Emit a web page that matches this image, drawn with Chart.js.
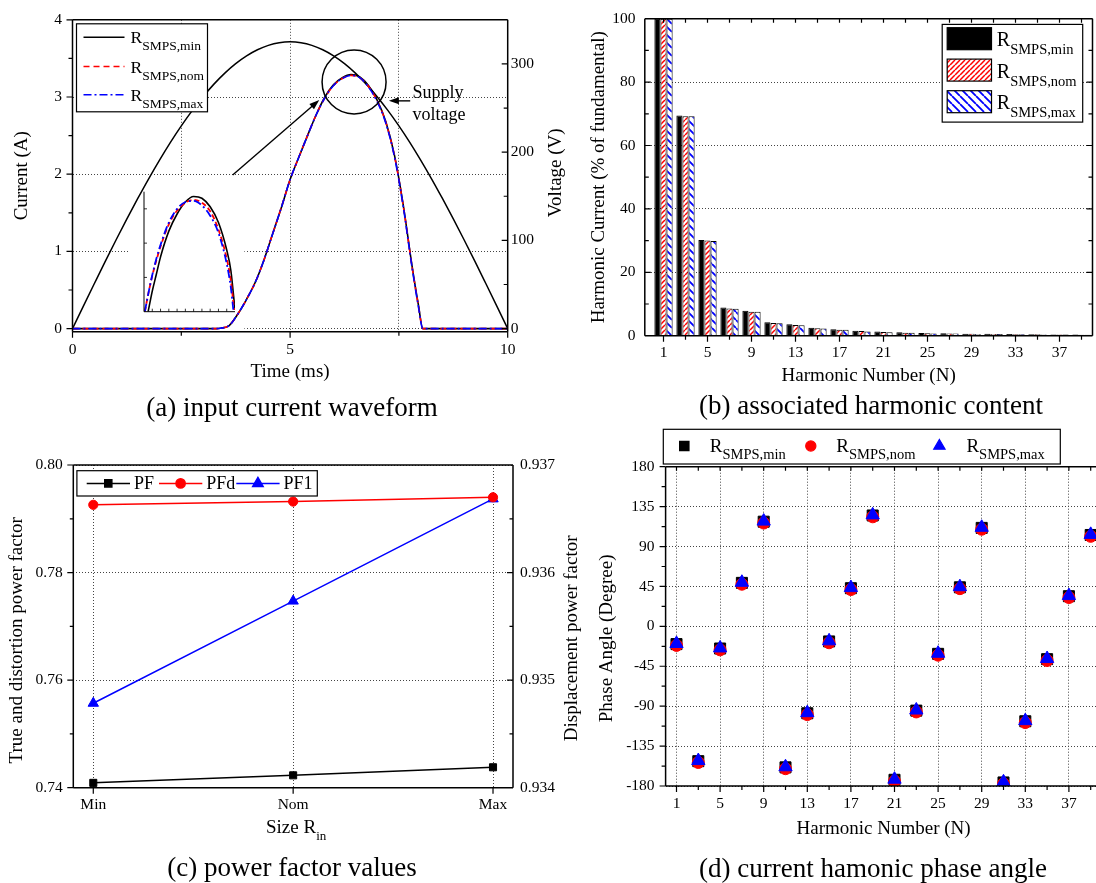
<!DOCTYPE html>
<html>
<head>
<meta charset="utf-8">
<title>SMPS input current and harmonics</title>
<script src="https://cdn.jsdelivr.net/npm/chart.js@4.4.1/dist/chart.umd.min.js"></script>
<style>
  html, body { margin: 0; padding: 0; background: #fff; }
  body { width: 1096px; height: 883px; overflow: hidden; position: relative; font-family: "Liberation Serif", "Times New Roman", serif; }
  canvas { position: absolute; }
  .caption { position: absolute; font-size: 27px; line-height: 1; transform: translate(-50%, -50%); white-space: nowrap; color: #000; }
</style>
</head>
<body>
<canvas id="waveChart" width="580" height="430" style="left:0px;top:0px"></canvas>
<canvas id="insetChart" width="100" height="130" style="left:140px;top:186px"></canvas>
<canvas id="harmonicChart" width="536" height="430" style="left:560px;top:0px"></canvas>
<canvas id="pfChart" width="600" height="458" style="left:0px;top:425px"></canvas>
<canvas id="phaseChart" width="560" height="458" style="left:560px;top:425px"></canvas>
<div class="caption" style="left:292px;top:407px">(a) input current waveform</div>
<div class="caption" style="left:871px;top:405px">(b) associated harmonic content</div>
<div class="caption" style="left:292px;top:867px">(c) power factor values</div>
<div class="caption" style="left:873px;top:868px">(d) current hamonic phase angle</div>
<script>
// ---- (a) supply voltage and input current ----
const timeV = [0, 0.25, 0.5, 0.75, 1, 1.25, 1.5, 1.75, 2, 2.25, 2.5, 2.75, 3, 3.25, 3.5, 3.75, 4, 4.25, 4.5, 4.75,
  5, 5.25, 5.5, 5.75, 6, 6.25, 6.5, 6.75, 7, 7.25, 7.5, 7.75, 8, 8.25, 8.5, 8.75, 9, 9.25, 9.5, 9.75, 10];
const supplyV = [0, 25.5, 50.8, 75.9, 100.4, 124.4, 147.5, 169.8, 191.0, 211.1, 229.8, 247.1, 262.9, 277.1, 289.6, 300.3, 309.1, 316.0, 321.0, 324.0,
  325.0, 324.0, 321.0, 316.0, 309.1, 300.3, 289.6, 277.1, 262.9, 247.1, 229.8, 211.1, 191.0, 169.8, 147.5, 124.4, 100.4, 75.9, 50.8, 25.5, 0];

const timeI = [0, 3.3, 3.4, 3.6, 3.8, 4.0, 4.2, 4.4, 4.6, 4.8, 5.0, 5.2, 5.4, 5.6, 5.8, 6.0, 6.2, 6.4, 6.6, 6.8, 7.0, 7.2, 7.4, 7.6, 7.8, 7.95, 8.05, 10];
const currentMin = [0, 0, 0.005, 0.04, 0.19, 0.38, 0.60, 0.89, 1.23, 1.57, 1.93, 2.22, 2.50, 2.77, 3.00, 3.16, 3.25, 3.29, 3.26, 3.15, 2.96, 2.68, 2.24, 1.60, 0.82, 0.30, 0, 0];
const currentNom = [0, 0, 0.005, 0.04, 0.19, 0.38, 0.60, 0.89, 1.23, 1.57, 1.93, 2.22, 2.50, 2.77, 2.99, 3.15, 3.24, 3.28, 3.25, 3.14, 2.95, 2.67, 2.23, 1.59, 0.81, 0.29, 0, 0];
const currentMax = [0, 0, 0.005, 0.04, 0.19, 0.38, 0.60, 0.89, 1.23, 1.57, 1.93, 2.22, 2.50, 2.77, 2.99, 3.15, 3.24, 3.28, 3.25, 3.13, 2.94, 2.66, 2.22, 1.58, 0.80, 0.28, 0, 0];

// zoomed view of the current peak
const insetTimeMin = [5.95, 6.0, 6.05, 6.1, 6.2, 6.3, 6.4, 6.5, 6.6, 6.7, 6.8, 6.9, 6.95, 7.0];
const insetMin = [2.95, 3.01, 3.06, 3.11, 3.185, 3.235, 3.27, 3.286, 3.281, 3.256, 3.21, 3.13, 3.07, 2.955];
const insetTimeNom = [5.91, 5.95, 6.0, 6.05, 6.1, 6.2, 6.3, 6.4, 6.5, 6.6, 6.7, 6.8, 6.9, 6.95, 6.99];
const insetNom = [2.95, 3.0, 3.055, 3.10, 3.14, 3.205, 3.245, 3.268, 3.276, 3.268, 3.243, 3.19, 3.105, 3.04, 2.955];
const insetTimeMax = [5.91, 5.95, 6.0, 6.05, 6.1, 6.2, 6.3, 6.4, 6.5, 6.6, 6.7, 6.8, 6.9, 6.95, 6.98];
const insetMax = [2.95, 3.0, 3.057, 3.105, 3.145, 3.21, 3.25, 3.27, 3.273, 3.26, 3.23, 3.18, 3.09, 3.02, 2.955];

// ---- (b) harmonic magnitudes, % of fundamental ----
const harmonics = [1, 3, 5, 7, 9, 11, 13, 15, 17, 19, 21, 23, 25, 27, 29, 31, 33, 35, 37, 39];
const harmonicLabels = [1, 5, 9, 13, 17, 21, 25, 29, 33, 37];
const magMin = [100, 69.5, 30.2, 8.9, 7.86, 4.24, 3.62, 2.48, 2.07, 1.55, 1.34, 1.05, 0.85, 0.80, 0.65, 0.60, 0.50, 0.45, 0.40, 0.35];
const magNom = [100, 69.2, 30.0, 8.6, 7.55, 4.04, 3.40, 2.38, 1.86, 1.45, 1.14, 0.95, 0.75, 0.72, 0.58, 0.55, 0.45, 0.42, 0.37, 0.32];
const magMax = [100, 69.2, 29.9, 8.5, 7.55, 3.93, 3.31, 2.28, 1.86, 1.35, 1.10, 0.92, 0.72, 0.70, 0.55, 0.52, 0.43, 0.40, 0.35, 0.30];

// ---- (c) power factors vs input resistor size ----
const sizeLabels = ['Min', 'Nom', 'Max'];
const pfValues = [0.7409, 0.7423, 0.7438];
const pfdValues = [0.93663, 0.93666, 0.93670];
const pf1Values = [0.7557, 0.7747, 0.7937];

// ---- (d) harmonic phase angle, degrees ----
const phaseMin = [-20, -152, -25, 49, 118, -159, -98, -17, 43, 125, -173, -95, -31, 44, 111, -176, -107, -37, 34, 103];
const phaseNom = [-21.5, -153.5, -26.5, 47.5, 116.5, -160.5, -99.5, -18.5, 41.5, 123.5, -174.5, -96.5, -32.5, 42.5, 109.5, -177.5, -108.5, -38.5, 32.5, 101.5];
const phaseMax = [-19.5, -151.5, -24.5, 49.5, 118.5, -158.5, -97.5, -16.5, 43.5, 125.5, -172.5, -94.5, -30.5, 44.5, 111.5, -175.5, -106.5, -36.5, 34.5, 103.5];

const seriesSubs = ['SMPS,min', 'SMPS,nom', 'SMPS,max'];
const FONT = '"Liberation Serif", "Times New Roman", serif';

Chart.defaults.font.family = FONT;
Chart.defaults.font.size = 15.5;
Chart.defaults.color = '#000';
Chart.defaults.animation = false;
Chart.defaults.events = [];
Chart.defaults.plugins.legend.display = false;
Chart.defaults.plugins.tooltip.enabled = false;

const pts = (xs, ys) => xs.map((x, k) => ({ x, y: ys[k] }));

// axis box and tick marks (inward or outward) drawn over the plot
const framePlugin = {
  id: 'frame',
  afterDraw(chart, args, opts) {
    const { ctx, chartArea: a } = chart;
    const sides = opts.sides || 'lrtb';
    ctx.save();
    ctx.strokeStyle = '#000';
    ctx.lineWidth = opts.width || 1.5;
    ctx.beginPath();
    if (sides.includes('l')) { ctx.moveTo(a.left, a.top); ctx.lineTo(a.left, a.bottom); }
    if (sides.includes('r')) { ctx.moveTo(a.right, a.top); ctx.lineTo(a.right, a.bottom); }
    if (sides.includes('t')) { ctx.moveTo(a.left, a.top); ctx.lineTo(a.right, a.top); }
    if (sides.includes('b')) { ctx.moveTo(a.left, a.bottom); ctx.lineTo(a.right, a.bottom); }
    ctx.stroke();
    ctx.lineWidth = opts.tickWidth || 1.2;
    for (const set of opts.ticks || []) {
      const scale = chart.scales[set.scale];
      const dir = set.inward ? -1 : 1;
      ctx.beginPath();
      for (const v of set.values) {
        const p = scale.getPixelForValue(v);
        if (set.side === 'left') { ctx.moveTo(a.left, p); ctx.lineTo(a.left - dir * set.len, p); }
        if (set.side === 'right') { ctx.moveTo(a.right, p); ctx.lineTo(a.right + dir * set.len, p); }
        if (set.side === 'bottom') { ctx.moveTo(p, a.bottom); ctx.lineTo(p, a.bottom + dir * set.len); }
        if (set.side === 'top') { ctx.moveTo(p, a.top); ctx.lineTo(p, a.top - dir * set.len); }
      }
      ctx.stroke();
    }
    ctx.restore();
  }
};
Chart.register(framePlugin);

// "R" with a subscript, as used in every legend
function rLabel(ctx, x, baseline, sub, size, subSize) {
  ctx.fillStyle = '#000';
  ctx.textAlign = 'left';
  ctx.textBaseline = 'alphabetic';
  ctx.font = size + 'px ' + FONT;
  ctx.fillText('R', x, baseline);
  const w = ctx.measureText('R').width;
  ctx.font = subSize + 'px ' + FONT;
  ctx.fillText(sub, x + w, baseline + size * 0.4);
}

// vertical axis title, reading bottom to top
function sideTitle(ctx, text, x, y) {
  ctx.save();
  ctx.translate(x, y);
  ctx.rotate(-Math.PI / 2);
  ctx.font = '19px ' + FONT;
  ctx.fillStyle = '#000';
  ctx.textAlign = 'center';
  ctx.textBaseline = 'middle';
  ctx.fillText(text, 0, 0);
  ctx.restore();
}

function arrow(ctx, x1, y1, x2, y2) {
  const ang = Math.atan2(y2 - y1, x2 - x1);
  const c = Math.cos(ang), s = Math.sin(ang);
  ctx.beginPath();
  ctx.moveTo(x1, y1);
  ctx.lineTo(x2 - 6 * c, y2 - 6 * s);
  ctx.stroke();
  ctx.beginPath();
  ctx.moveTo(x2, y2);
  ctx.lineTo(x2 - 10 * c + 3.5 * s, y2 - 10 * s - 3.5 * c);
  ctx.lineTo(x2 - 10 * c - 3.5 * s, y2 - 10 * s + 3.5 * c);
  ctx.closePath();
  ctx.fill();
}

function hatch(color, size, rising, width) {
  const c = document.createElement('canvas');
  c.width = size; c.height = size;
  const g = c.getContext('2d');
  g.fillStyle = '#fff';
  g.fillRect(0, 0, size, size);
  g.strokeStyle = color;
  g.lineWidth = width;
  g.beginPath();
  for (const o of [-size, 0, size]) {
    if (rising) { g.moveTo(o, size); g.lineTo(o + size, 0); }
    else { g.moveTo(o, 0); g.lineTo(o + size, size); }
  }
  g.stroke();
  return g.createPattern(c, 'repeat');
}

const dotted = { color: '#444', lineWidth: 1, drawTicks: false };
const dotBorder = { display: false, dash: [1, 2] };
const noGrid = { display: false, drawTicks: false };
const titleFont = { size: 19 };
const lineStyles = [
  { color: '#000000', dash: [] },
  { color: '#ff0000', dash: [6, 4] },
  { color: '#0000ff', dash: [8, 3, 2, 3] }
];

// ---------- (a) ----------
const waveNotes = {
  id: 'waveNotes',
  beforeDatasetsDraw(chart) {
    // blank backdrop behind the inset
    const { ctx, scales: { x, y }, chartArea: a } = chart;
    ctx.save();
    ctx.fillStyle = '#fff';
    const l = x.getPixelForValue(1.3), r = x.getPixelForValue(3.95), t = y.getPixelForValue(1.93);
    ctx.fillRect(l, t, r - l, a.bottom - t);
    ctx.restore();
  },
  afterDatasetsDraw(chart) {
    const { ctx, scales: { x, y }, chartArea: a } = chart;
    ctx.save();
    ctx.strokeStyle = '#000';
    ctx.fillStyle = '#000';
    ctx.lineWidth = 1.5;
    ctx.beginPath();
    ctx.arc(x.getPixelForValue(6.47), y.getPixelForValue(3.195), 32, 0, Math.PI * 2);
    ctx.stroke();
    ctx.lineWidth = 1.4;
    arrow(ctx, x.getPixelForValue(3.68), y.getPixelForValue(1.99), x.getPixelForValue(5.67), y.getPixelForValue(2.96));
    arrow(ctx, x.getPixelForValue(7.76), y.getPixelForValue(2.95), x.getPixelForValue(7.27), y.getPixelForValue(2.95));
    ctx.font = '18px ' + FONT;
    ctx.textAlign = 'left';
    ctx.textBaseline = 'middle';
    ctx.fillText('Supply', x.getPixelForValue(7.81), y.getPixelForValue(3.05));
    ctx.fillText('voltage', x.getPixelForValue(7.81), y.getPixelForValue(2.76));

    // legend
    const bx = a.left + 4, by = a.top + 4;
    ctx.fillStyle = '#fff';
    ctx.fillRect(bx, by, 131, 88);
    ctx.lineWidth = 1.2;
    ctx.strokeRect(bx, by, 131, 88);
    [13.4, 42.7, 71].forEach((dy, k) => {
      ctx.save();
      ctx.strokeStyle = lineStyles[k].color;
      ctx.setLineDash(lineStyles[k].dash);
      ctx.lineWidth = 1.6;
      ctx.beginPath();
      ctx.moveTo(bx + 7, by + dy);
      ctx.lineTo(bx + 48, by + dy);
      ctx.stroke();
      ctx.restore();
      rLabel(ctx, bx + 54, by + dy + 6, seriesSubs[k], 17.5, 13.5);
    });
    ctx.restore();
  },
  afterDraw(chart) {
    const a = chart.chartArea;
    sideTitle(chart.ctx, 'Voltage (V)', a.right + 48.1, (a.top + a.bottom) / 2 - 3);
  }
};

new Chart(document.getElementById('waveChart'), {
  type: 'line',
  data: {
    datasets: [
      { label: 'Supply voltage', data: pts(timeV, supplyV), yAxisID: 'yV', borderColor: '#000', borderWidth: 1.5,
        pointRadius: 0, cubicInterpolationMode: 'monotone', order: 4 },
      { label: 'R SMPS,min', data: pts(timeI, currentMin), yAxisID: 'y', borderColor: lineStyles[0].color, borderWidth: 1.6,
        pointRadius: 0, cubicInterpolationMode: 'monotone', order: 3 },
      { label: 'R SMPS,nom', data: pts(timeI, currentNom), yAxisID: 'y', borderColor: lineStyles[1].color, borderDash: lineStyles[1].dash,
        borderWidth: 1.6, pointRadius: 0, cubicInterpolationMode: 'monotone', order: 2 },
      { label: 'R SMPS,max', data: pts(timeI, currentMax), yAxisID: 'y', borderColor: lineStyles[2].color, borderDash: lineStyles[2].dash,
        borderWidth: 1.6, pointRadius: 0, cubicInterpolationMode: 'monotone', order: 1 }
    ]
  },
  options: {
    responsive: false,
    devicePixelRatio: 1,
    layout: { padding: { left: 10.6, right: 12.8, top: 13.3, bottom: 46.9 } },
    scales: {
      x: {
        type: 'linear', min: 0, max: 10,
        ticks: { stepSize: 2.5, padding: 9, maxRotation: 0, autoSkip: false, callback: v => (v % 5 === 0 ? v : '') },
        grid: dotted, border: dotBorder,
        title: { display: true, text: 'Time (ms)', font: titleFont, padding: 0 },
        afterFit: s => { s.height = 51.4; }
      },
      y: {
        min: -0.04, max: 4,
        ticks: { stepSize: 1, includeBounds: false, padding: 10.5 },
        grid: dotted, border: dotBorder,
        title: { display: true, text: 'Current (A)', font: titleFont, padding: 0 },
        afterFit: s => { s.width = 61.9; }
      },
      yV: {
        position: 'right', min: -3.5, max: 350,
        ticks: { stepSize: 100, includeBounds: false, padding: 3 },
        grid: noGrid, border: { display: false },
        afterFit: s => { s.width = 59.5; }
      }
    },
    plugins: {
      frame: {
        ticks: [
          { scale: 'x', side: 'bottom', values: [0, 5, 10], len: 6 },
          { scale: 'x', side: 'bottom', values: [2.5, 7.5], len: 4 },
          { scale: 'y', side: 'left', values: [0, 1, 2, 3, 4], len: 6 },
          { scale: 'y', side: 'left', values: [0.5, 1.5, 2.5, 3.5], len: 4 },
          { scale: 'yV', side: 'right', values: [0, 100, 200, 300], len: 6, inward: true },
          { scale: 'yV', side: 'right', values: [50, 150, 250], len: 4, inward: true }
        ]
      }
    }
  },
  plugins: [waveNotes]
});

new Chart(document.getElementById('insetChart'), {
  type: 'line',
  data: {
    datasets: [
      { data: pts(insetTimeMax, insetMax), borderColor: lineStyles[2].color, borderDash: lineStyles[2].dash, borderWidth: 1.8,
        pointRadius: 0, cubicInterpolationMode: 'monotone' },
      { data: pts(insetTimeNom, insetNom), borderColor: lineStyles[1].color, borderDash: [5, 3], borderWidth: 1.8,
        pointRadius: 0, cubicInterpolationMode: 'monotone' },
      { data: pts(insetTimeMin, insetMin), borderColor: '#000', borderWidth: 1.6, pointRadius: 0, cubicInterpolationMode: 'monotone' }
    ]
  },
  options: {
    responsive: false,
    devicePixelRatio: 1,
    layout: { padding: { left: 4, top: 5.7, right: 5, bottom: 4.3 } },
    scales: {
      x: { type: 'linear', display: false, min: 5.9, max: 7.0 },
      y: { display: false, min: 2.95, max: 3.30 }
    },
    plugins: {
      frame: {
        sides: 'lb', width: 1, tickWidth: 0.8,
        ticks: [
          { scale: 'y', side: 'left', values: [3.05, 3.15, 3.25], len: 3, inward: true },
          { scale: 'x', side: 'bottom', values: [6.0, 6.1, 6.2, 6.3, 6.4, 6.5, 6.6, 6.7, 6.8, 6.9], len: 3, inward: true }
        ]
      }
    }
  }
});

// ---------- (b) ----------
const redHatch = hatch('#ff0000', 5, true, 1.5);
const blueHatch = hatch('#0000ff', 8, false, 1.8);
const barFills = ['#000', redHatch, blueHatch];

const harmonicLegend = {
  id: 'harmonicLegend',
  afterDraw(chart) {
    const { ctx, chartArea: a } = chart;
    const bx = a.right - 150.3, by = a.top + 5.7;
    ctx.save();
    ctx.fillStyle = '#fff';
    ctx.fillRect(bx, by, 140.5, 97.7);
    ctx.strokeStyle = '#000';
    ctx.lineWidth = 1.2;
    ctx.strokeRect(bx, by, 140.5, 97.7);
    [14.3, 45.7, 77.3].forEach((dy, k) => {
      ctx.fillStyle = barFills[k];
      ctx.fillRect(bx + 5, by + dy - 11, 44.3, 22);
      ctx.strokeRect(bx + 5, by + dy - 11, 44.3, 22);
      rLabel(ctx, bx + 54.6, by + dy + 7.5, seriesSubs[k], 20, 14.5);
    });
    ctx.restore();
  }
};

new Chart(document.getElementById('harmonicChart'), {
  type: 'bar',
  data: {
    datasets: [
      { label: 'R SMPS,min', data: pts(harmonics, magMin), backgroundColor: barFills[0], borderColor: '#000', borderWidth: 1 },
      { label: 'R SMPS,nom', data: pts(harmonics, magNom), backgroundColor: barFills[1], borderColor: '#000', borderWidth: 1 },
      { label: 'R SMPS,max', data: pts(harmonics, magMax), backgroundColor: barFills[2], borderColor: '#000', borderWidth: 1 }
    ]
  },
  options: {
    responsive: false,
    devicePixelRatio: 1,
    datasets: { bar: { categoryPercentage: 0.83, barPercentage: 1 } },
    layout: { padding: { left: 27.3, right: 3.5, top: 13.3, bottom: 42.6 } },
    scales: {
      x: {
        type: 'linear', min: -0.7, max: 40, offset: false,
        afterBuildTicks: s => { s.ticks = harmonicLabels.map(v => ({ value: v })); },
        ticks: { autoSkip: false, maxRotation: 0, padding: 7.7 },
        grid: { display: false, drawTicks: false, offset: false }, border: { display: false },
        title: { display: true, text: 'Harmonic Number (N)', font: titleFont, padding: 0 },
        afterFit: s => { s.height = 51.7; }
      },
      y: {
        min: 0, max: 100,
        ticks: { stepSize: 20, padding: 9.4 },
        grid: dotted, border: dotBorder,
        title: { display: true, text: 'Harmonic Current (% of fundamental)', font: titleFont, padding: 0 },
        afterFit: s => { s.width = 57.5; }
      }
    },
    plugins: {
      frame: {
        ticks: [
          { scale: 'x', side: 'bottom', values: harmonicLabels, len: 6 },
          { scale: 'x', side: 'bottom', values: harmonics.filter(h => !harmonicLabels.includes(h)), len: 4 },
          { scale: 'x', side: 'top', values: harmonics, len: 4, inward: true },
          { scale: 'y', side: 'left', values: [20, 40, 60, 80], len: 6, inward: true },
          { scale: 'y', side: 'left', values: [10, 30, 50, 70, 90], len: 4, inward: true },
          { scale: 'y', side: 'right', values: [20, 40, 60, 80], len: 6, inward: true },
          { scale: 'y', side: 'right', values: [10, 30, 50, 70, 90], len: 4, inward: true }
        ]
      }
    }
  },
  plugins: [harmonicLegend]
});

// ---------- (c) ----------
const pfStyles = [
  { name: 'PF', color: '#000', style: 'rect', radius: 5 },
  { name: 'PFd', color: '#ff0000', style: 'circle', radius: 4.6 },
  { name: 'PF1', color: '#0000ff', style: 'triangle', radius: 6 }
];

const pfNotes = {
  id: 'pfNotes',
  afterDraw(chart) {
    const { ctx, chartArea: a } = chart;
    ctx.save();
    // x axis title with subscript
    ctx.fillStyle = '#000';
    ctx.textBaseline = 'alphabetic';
    ctx.font = '19px ' + FONT;
    const main = 'Size R';
    const wMain = ctx.measureText(main).width;
    ctx.font = '13px ' + FONT;
    const wSub = ctx.measureText('in').width;
    const x0 = (a.left + a.right) / 2 + 3 - (wMain + wSub) / 2;
    ctx.font = '19px ' + FONT;
    ctx.textAlign = 'left';
    ctx.fillText(main, x0, a.bottom + 45.6);
    ctx.font = '13px ' + FONT;
    ctx.fillText('in', x0 + wMain, a.bottom + 52.3);

    const mid = (a.top + a.bottom) / 2;
    sideTitle(ctx, 'True and distortion power factor', a.left - 56.7, mid + 14);
    sideTitle(ctx, 'Displacement power factor', a.right + 59.5, mid + 12);

    // legend
    const bx = a.left + 3.6, by = a.top + 5.7, cy = by + 12.7;
    ctx.fillStyle = '#fff';
    ctx.fillRect(bx, by, 240.4, 25.3);
    ctx.strokeStyle = '#000';
    ctx.lineWidth = 1.2;
    ctx.strokeRect(bx, by, 240.4, 25.3);
    [9.8, 82.1, 159.4].forEach((dx, k) => {
      const st = pfStyles[k];
      ctx.strokeStyle = st.color;
      ctx.lineWidth = 1.5;
      ctx.beginPath();
      ctx.moveTo(bx + dx, cy);
      ctx.lineTo(bx + dx + 43.3, cy);
      ctx.stroke();
      ctx.fillStyle = st.color;
      Chart.helpers.drawPoint(ctx, { pointStyle: st.style, radius: st.radius, borderWidth: 1 }, bx + dx + 21.6, cy);
      ctx.fillStyle = '#000';
      ctx.font = '18px ' + FONT;
      ctx.textBaseline = 'middle';
      ctx.fillText(st.name, bx + dx + 47.2, cy + 1);
    });
    ctx.restore();
  }
};

new Chart(document.getElementById('pfChart'), {
  type: 'line',
  data: {
    datasets: [
      { label: 'PF', data: pts([0, 1, 2], pfValues), yAxisID: 'y' },
      { label: 'PFd', data: pts([0, 1, 2], pfdValues), yAxisID: 'y2' },
      { label: 'PF1', data: pts([0, 1, 2], pf1Values), yAxisID: 'y' }
    ].map((d, k) => Object.assign(d, {
      borderColor: pfStyles[k].color, backgroundColor: pfStyles[k].color, borderWidth: 1.5,
      pointStyle: pfStyles[k].style, pointRadius: pfStyles[k].radius, pointBorderWidth: 1, tension: 0
    }))
  },
  options: {
    responsive: false,
    devicePixelRatio: 1,
    layout: { padding: { left: 5.2, right: 16.1, top: 40, bottom: 55.3 } },
    scales: {
      x: {
        type: 'linear', min: -0.1, max: 2.1,
        afterBuildTicks: s => { s.ticks = [0, 1, 2].map(v => ({ value: v })); },
        ticks: { autoSkip: false, maxRotation: 0, padding: 8, callback: v => sizeLabels[v] },
        grid: dotted, border: dotBorder,
        afterFit: s => { s.height = 40; }
      },
      y: {
        min: 0.74, max: 0.80,
        ticks: { stepSize: 0.02, padding: 10.6, callback: v => v.toFixed(2) },
        grid: dotted, border: dotBorder,
        afterFit: s => { s.width = 68.1; }
      },
      y2: {
        position: 'right', min: 0.934, max: 0.937,
        ticks: { stepSize: 0.001, padding: 7, callback: v => v.toFixed(3) },
        grid: noGrid, border: { display: false },
        afterFit: s => { s.width = 70.9; }
      }
    },
    plugins: {
      frame: {
        ticks: [
          { scale: 'x', side: 'bottom', values: [0, 1, 2], len: 6 },
          { scale: 'y', side: 'left', values: [0.74, 0.76, 0.78, 0.80], len: 6 },
          { scale: 'y', side: 'left', values: [0.75, 0.77, 0.79], len: 3.5 },
          { scale: 'y2', side: 'right', values: [0.935, 0.936], len: 6, inward: true },
          { scale: 'y2', side: 'right', values: [0.9345, 0.9355, 0.9365], len: 3.5, inward: true }
        ]
      }
    }
  },
  plugins: [pfNotes]
});

// ---------- (d) ----------
const phaseStyles = [
  { color: '#000', style: 'rect', radius: 7.8 },
  { color: '#ff0000', style: 'circle', radius: 6 },
  { color: '#0000ff', style: 'triangle', radius: 7.7 }
];

const phaseLegend = {
  id: 'phaseLegend',
  afterDraw(chart) {
    const { ctx, chartArea: a } = chart;
    sideTitle(ctx, 'Phase Angle (Degree)', a.left - 58.2, (a.top + a.bottom) / 2 + 12);
    const bx = a.left - 2.3, by = 4.3;
    ctx.save();
    ctx.fillStyle = '#fff';
    ctx.fillRect(bx, by, 397, 34.7);
    ctx.strokeStyle = '#000';
    ctx.lineWidth = 1.2;
    ctx.strokeRect(bx, by, 397, 34.7);
    [[124.3, 149.8], [250.8, 276.3], [379.4, 406.4]].forEach(([mx, tx], k) => {
      const st = phaseStyles[k];
      ctx.fillStyle = st.color;
      ctx.strokeStyle = st.color;
      Chart.helpers.drawPoint(ctx, { pointStyle: st.style, radius: st.radius * 0.85, borderWidth: 1 }, mx, 21);
      rLabel(ctx, tx, 26.7, seriesSubs[k], 19, 14.5);
    });
    ctx.restore();
  }
};

new Chart(document.getElementById('phaseChart'), {
  type: 'scatter',
  data: {
    datasets: [
      { label: 'R SMPS,min', data: pts(harmonics, phaseMin), order: 3 },
      { label: 'R SMPS,nom', data: pts(harmonics, phaseNom), order: 2 },
      { label: 'R SMPS,max', data: pts(harmonics, phaseMax), order: 1 }
    ].map((d, k) => Object.assign(d, {
      backgroundColor: phaseStyles[k].color, borderColor: phaseStyles[k].color, borderWidth: 1,
      pointStyle: phaseStyles[k].style, pointRadius: phaseStyles[k].radius
    }))
  },
  options: {
    responsive: false,
    devicePixelRatio: 1,
    layout: { padding: { left: 36, right: 18.4, top: 41.7, bottom: 42.3 } },
    scales: {
      x: {
        type: 'linear', min: 0, max: 40,
        afterBuildTicks: s => { s.ticks = harmonicLabels.map(v => ({ value: v })); },
        ticks: { autoSkip: false, maxRotation: 0, padding: 8.7 },
        grid: dotted, border: dotBorder,
        title: { display: true, text: 'Harmonic Number (N)', font: titleFont, padding: 0 },
        afterFit: s => { s.height = 54.7; }
      },
      y: {
        min: -180, max: 180,
        ticks: { stepSize: 45, padding: 11 },
        grid: dotted, border: dotBorder,
        afterFit: s => { s.width = 69.6; }
      }
    },
    plugins: {
      frame: {
        ticks: [
          { scale: 'x', side: 'bottom', values: harmonicLabels, len: 6 },
          { scale: 'x', side: 'bottom', values: harmonics.filter(h => !harmonicLabels.includes(h)), len: 4 },
          { scale: 'x', side: 'top', values: harmonics, len: 4, inward: true },
          { scale: 'y', side: 'left', values: [-180, -135, -90, -45, 0, 45, 90, 135, 180], len: 6 },
          { scale: 'y', side: 'left', values: [-157.5, -112.5, -67.5, -22.5, 22.5, 67.5, 112.5, 157.5], len: 4 }
        ]
      }
    }
  },
  plugins: [phaseLegend]
});
</script>
</body>
</html>
